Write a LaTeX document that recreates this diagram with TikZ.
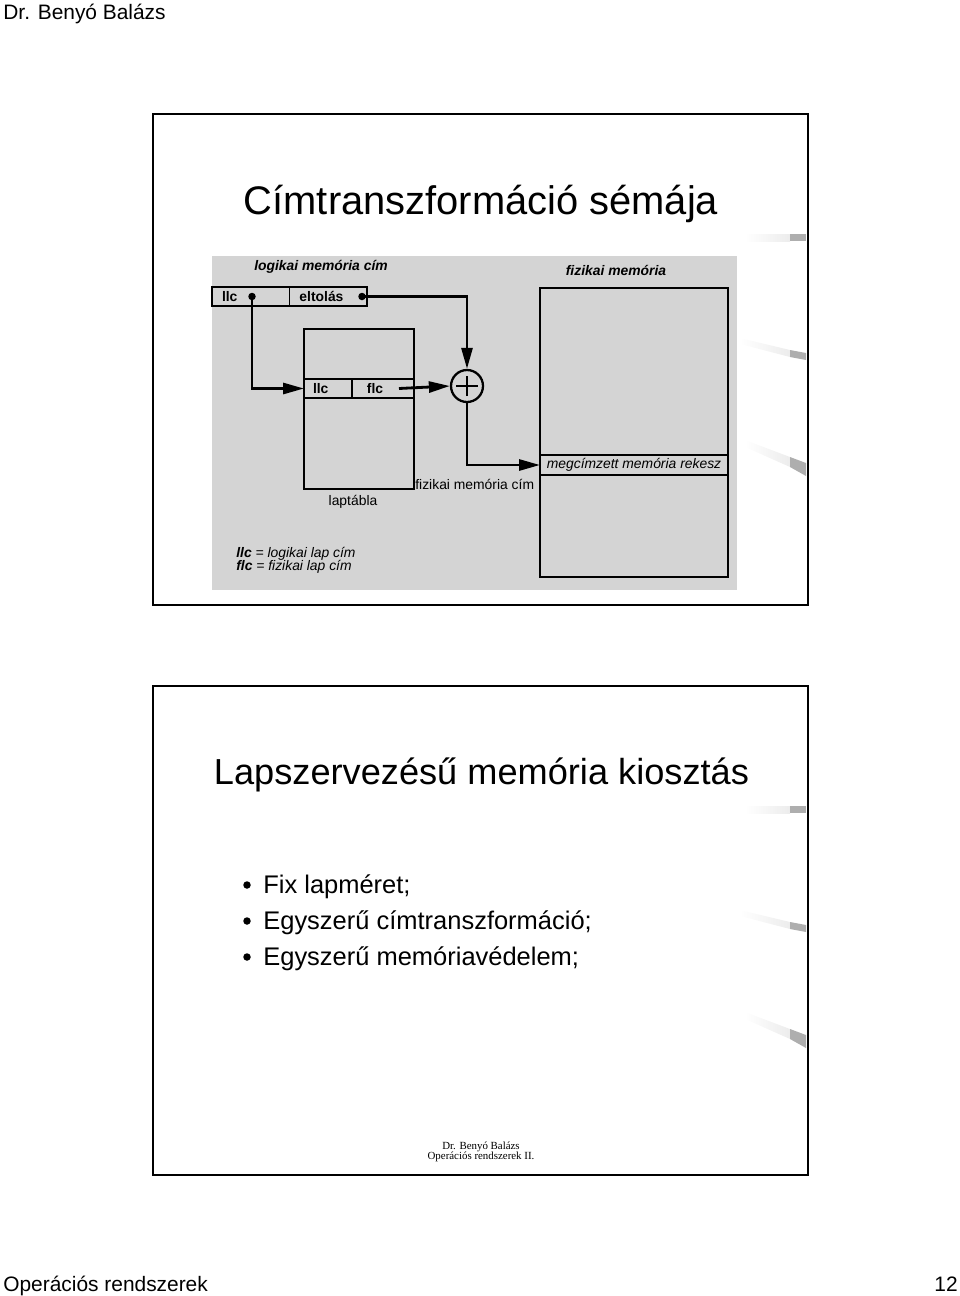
\documentclass[tikz,border=0pt]{standalone}
\usepackage{fontspec}
\setmainfont{Liberation Sans}
\newfontfamily\serifft{Liberation Serif}
\usetikzlibrary{arrows.meta}
\usetikzlibrary{positioning}

\definecolor{panelgray}{RGB}{212,212,212}
\definecolor{swoosh}{RGB}{160,160,160}
\newcommand{\diagfont}{\fontsize{7.9}{9.5}\selectfont}

\tikzset{
  cell/.style={draw, line width=0.8pt, outer sep=0pt, inner ysep=0pt, minimum height=0.38cm, align=left, font=\diagfont\bfseries},
  lbl/.style={inner sep=0pt, font=\diagfont},
  conn/.style={line width=1.6pt, -{Triangle[length=0.42cm,width=0.22cm]}},
  dot/.style={circle, fill, inner sep=0pt, minimum size=0.15cm},
  slide/.style={draw, line width=1.4pt},
}

\begin{document}
\begin{tikzpicture}[x=0.02cm,y=-0.02cm]
\useasboundingbox (0,0) rectangle (960,1296);
% page header and footer
\node[anchor=base west, inner sep=0pt, font=\fontsize{11.9}{14}\selectfont] (author) at (3,19) {Dr. Benyó Balázs};
\node[anchor=base west, inner sep=0pt, font=\fontsize{11.9}{14}\selectfont] (course) at (3,1291) {Operációs rendszerek};
\node[anchor=base east, inner sep=0pt, font=\fontsize{11.9}{14}\selectfont] (pagenum) at (958,1291) {12};

% the two slides
\draw[slide] (153,114) rectangle (808,605);
\draw[slide] (153,686) rectangle (808,1175);
\foreach \dy in {0,572} {
  \begin{scope}[shift={(0,\dy)}]
    \shade[left color=white, right color=swoosh!20] (745,234) rectangle (790,241);
    \fill[swoosh!85] (790,234) rectangle (806,241);
    \shade[left color=white, right color=swoosh!20] (740,338) -- (790,350) -- (790,357) -- (740,344) -- cycle;
    \fill[swoosh!85] (790,350) -- (806,353) -- (806,360) -- (790,357) -- cycle;
    \shade[left color=white, right color=swoosh!20] (745,440) -- (790,457) -- (790,467) -- (745,447) -- cycle;
    \fill[swoosh!85] (790,457) -- (806,463) -- (806,476) -- (790,467) -- cycle;
  \end{scope}
}

% slide 1: address translation
\node[anchor=base, inner sep=0pt, font=\fontsize{22.7}{27}\selectfont] (title1) at (481,214) {Címtranszformáció sémája};
\fill[panelgray] (212,256) rectangle (737,590);

\node[cell, text width=1.15cm, inner xsep=0.2cm] (llc) at (250.75,296.5) {llc};
\node[cell, text width=1.15cm, inner xsep=0.2cm, right=0pt of llc] (eltolas) {eltolás};
\node[dot] (llcdot) at (252,296.5) {};
\node[dot] (eltdot) at (362,296.5) {};

\node[draw, line width=0.8pt, minimum width=2.2cm, minimum height=3.2cm] (laptabla) at (359,409) {};
\node[cell, text width=0.6cm, inner xsep=0.18cm] (tllc) at (328,388.5) {llc};
\node[cell, text width=0.64cm, inner xsep=0.3cm, right=0pt of tllc] (tflc) {flc};

\node[circle, draw, line width=1.3pt, minimum size=0.64cm, inner sep=0pt] (plus) at (467,386) {};
\draw[line width=1.4pt] ([xshift=-0.22cm]plus.center) -- ([xshift=0.22cm]plus.center)
  ([yshift=-0.2cm]plus.center) -- ([yshift=0.2cm]plus.center);

\node[draw, line width=0.8pt, minimum width=3.76cm, minimum height=5.78cm] (physmem) at (634,432.5) {};
\node[cell, minimum width=3.76cm, minimum height=0.4cm, align=center, font=\diagfont\itshape] (rekesz) at (634,465) {megcímzett memória rekesz};

\draw[conn] (llcdot.center) |- (tllc.west);
\draw[conn] (eltdot.center) -| (plus.north);
\draw[conn] ([xshift=-0.3cm]tflc.east) -- (plus.west);
\draw[conn] (plus.south) |- (rekesz.west);

\node[lbl, font=\diagfont\bfseries\itshape] (logtitle) at (321,267) {logikai memória cím};
\node[lbl, font=\diagfont\bfseries\itshape] (phystitle) at (616,270) {fizikai memória};
\node[lbl, anchor=west] (physaddr) at (415,484) {fizikai memória cím};
\node[lbl] (lapt) at (353,502) {laptábla};
\node[lbl, anchor=west] (leg1) at (236,554) {\textbf{\textit{llc}} \textit{= logikai lap cím}};
\node[lbl, anchor=west] (leg2) at (236,567) {\textbf{\textit{flc}} \textit{= fizikai lap cím}};

% slide 2: paging
\node[anchor=base, inner sep=0pt, font=\fontsize{20.6}{25}\selectfont] (title2) at (481.5,784) {Lapszervezésű memória kiosztás};
\foreach \txt [count=\i] in {Fix lapméret;, Egyszerű címtranszformáció;, Egyszerű memóriavédelem;} {
  \node[dot, minimum size=0.15cm] (bdot\i) at (247,{885+36*(\i-1)}) {};
  \node[anchor=base west, inner sep=0pt, font=\fontsize{14.5}{17}\selectfont] (btxt\i) at (263,{893+36*(\i-1)}) {\txt};
}
\node[anchor=base, inner sep=0pt, font=\serifft\fontsize{6.2}{7.5}\selectfont] (sfoot1) at (481,1149) {Dr. Benyó Balázs};
\node[anchor=base, inner sep=0pt, font=\serifft\fontsize{6.2}{7.5}\selectfont] (sfoot2) at (481,1159) {Operációs rendszerek II.};
\end{tikzpicture}
\end{document}
